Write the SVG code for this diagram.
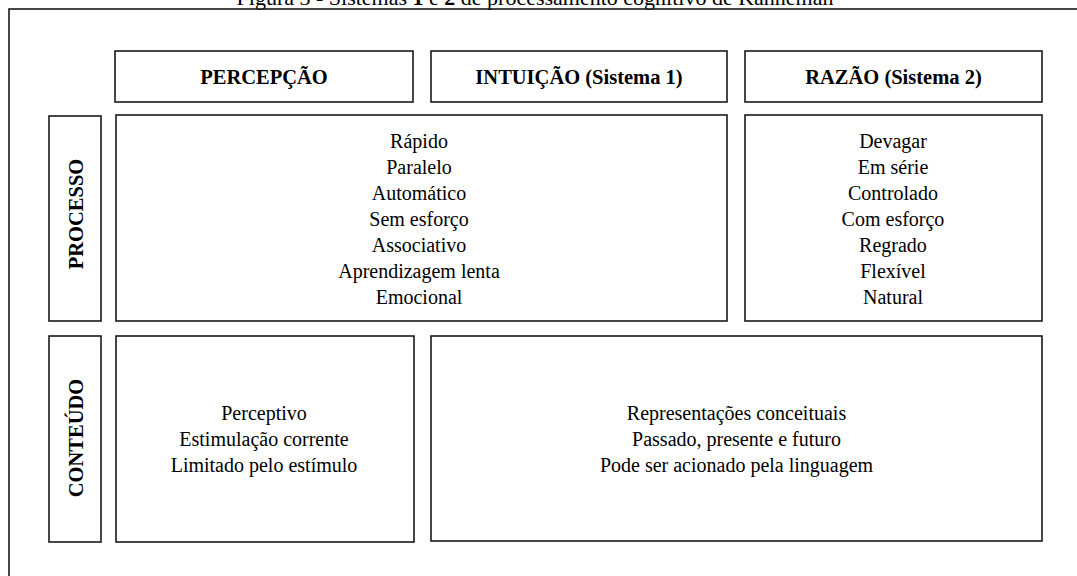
<svg xmlns="http://www.w3.org/2000/svg" width="1077" height="576" viewBox="0 0 1077 576">
<style>
.box{fill:#fff;stroke:#1a1a1a;stroke-width:1.6}
.frame{fill:none;stroke:#1a1a1a;stroke-width:1.6}
.h{font-family:"Liberation Serif","Times New Roman",serif;font-weight:bold;font-size:20.5px;fill:#000;text-anchor:middle}
.t{font-family:"Liberation Serif","Times New Roman",serif;font-size:20px;fill:#000;text-anchor:middle}
.cap{font-family:"Liberation Serif","Times New Roman",serif;font-size:22px;fill:#000;text-anchor:middle}
</style>
<rect width="1077" height="576" fill="#fff"/>
<text class="cap" x="535" y="5">Figura 3 - Sistemas <tspan font-weight="bold">1</tspan> e <tspan font-weight="bold">2</tspan> de processamento cognitivo de Kahneman</text>
<rect class="frame" x="9" y="9" width="1090" height="590"/>
<g id="hdr-percepcao"><rect class="box" x="115" y="51" width="298" height="51"/><text class="h" x="264" y="84">PERCEPÇÃO</text></g>
<g id="hdr-intuicao"><rect class="box" x="431" y="51" width="296" height="51"/><text class="h" x="579" y="84">INTUIÇÃO (Sistema 1)</text></g>
<g id="hdr-razao"><rect class="box" x="745" y="51" width="297" height="51"/><text class="h" x="893.5" y="84">RAZÃO (Sistema 2)</text></g>
<g id="lbl-processo"><rect class="box" x="49" y="116" width="52" height="205"/><text class="h" transform="translate(83,214) rotate(-90)">PROCESSO</text></g>
<g id="lbl-conteudo"><rect class="box" x="49" y="336" width="52" height="206"/><text class="h" transform="translate(83,438) rotate(-90)">CONTEÚDO</text></g>
<g id="proc-intuicao"><rect class="box" x="116" y="115" width="611" height="206"/>
<text class="t" x="419" y="148">Rápido</text>
<text class="t" x="419" y="174">Paralelo</text>
<text class="t" x="419" y="200">Automático</text>
<text class="t" x="419" y="226">Sem esforço</text>
<text class="t" x="419" y="252">Associativo</text>
<text class="t" x="419" y="278">Aprendizagem lenta</text>
<text class="t" x="419" y="304">Emocional</text></g>
<g id="proc-razao"><rect class="box" x="745" y="115" width="297" height="206"/>
<text class="t" x="893" y="148">Devagar</text>
<text class="t" x="893" y="174">Em série</text>
<text class="t" x="893" y="200">Controlado</text>
<text class="t" x="893" y="226">Com esforço</text>
<text class="t" x="893" y="252">Regrado</text>
<text class="t" x="893" y="278">Flexível</text>
<text class="t" x="893" y="304">Natural</text></g>
<g id="cont-percepcao"><rect class="box" x="116" y="336" width="298" height="206"/>
<text class="t" x="264" y="420">Perceptivo</text>
<text class="t" x="264" y="446">Estimulação corrente</text>
<text class="t" x="264" y="472">Limitado pelo estímulo</text></g>
<g id="cont-conceitual"><rect class="box" x="431" y="336" width="611" height="205"/>
<text class="t" x="736.5" y="420">Representações conceituais</text>
<text class="t" x="736.5" y="446">Passado, presente e futuro</text>
<text class="t" x="736.5" y="472">Pode ser acionado pela linguagem</text></g>
<g id="connectors"></g>
</svg>
